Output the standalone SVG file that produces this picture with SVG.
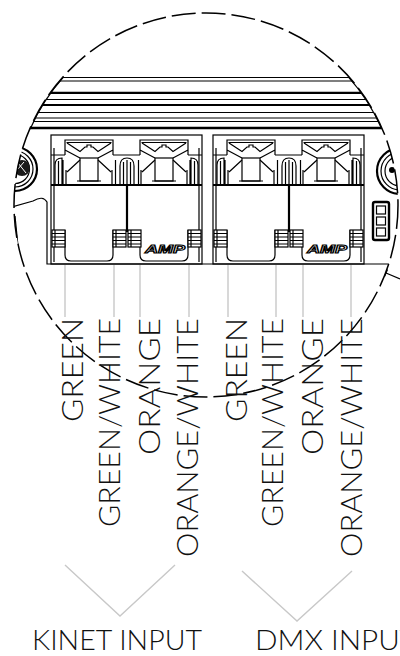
<svg xmlns="http://www.w3.org/2000/svg" xmlns:xlink="http://www.w3.org/1999/xlink" width="400" height="656" viewBox="0 0 400 656">
<style>
.k{fill:none;stroke:#000;stroke-width:1.2;stroke-linejoin:miter}
.k2{fill:none;stroke:#000;stroke-width:2.2}
.w{fill:#fff;stroke:#000;stroke-width:1.2}
.wire{fill:none;stroke:#c8c8c8;stroke-width:1.4}
.lbl{font-family:"Lato","Liberation Sans",sans-serif;font-weight:300;font-size:30px;fill:#111}
.bot{font-family:"Lato","Liberation Sans",sans-serif;font-weight:300;font-size:27px;fill:#111}
.amp{font-family:"Liberation Sans",sans-serif;font-size:10px;font-weight:bold;font-style:italic;fill:#fff;stroke:#000;stroke-width:0.9}
</style>
<defs>
<clipPath id="cc"><circle cx="206" cy="205" r="192"/></clipPath>
<g id="jackTop">
<path class="k" d="M0,155 V140 H48 V155 M1.5,142.5 H46.5 M2,143 L15,151.5 L20,147 H22 V145 H26 V147 H28 L33,151.5 L46,143 M0,150 L15,158 M48,150 L33,158 M2,172 L15,160 M46,172 L33,160 M1,170 V184 M47,170 V184 M12,181 H36"/>
<rect class="k" x="15" y="158" width="18" height="23"/>
</g>
<path id="arch" class="k" d="M0,184 V166 Q0,158 7,158 Q14,158 14,166 V184 M3.5,184 V162 M7,184 V160 M10.5,184 V162"/>
<path id="ujack" class="k" d="M0,230 V255 Q0,261 6,261 H42 Q48,261 48,255 V230"/>
<g id="tab">
<rect class="w" x="0" y="230" width="13" height="17"/>
<path class="k" d="M0,233.5 H13 M0,237 H13 M0,240.5 H13 M0,244 H13 M3,230 V247"/>
</g>
<g id="module">
<rect class="k" x="0" y="135" width="151" height="129" stroke-width="1.5"/>
<path class="k" d="M3,148 V262 M148,148 V262 M0,155 H14 M62,155 H89 M137,155 H151 M64.5,160 V184 M87.5,160 V184"/>
<use xlink:href="#jackTop" x="14"/>
<use xlink:href="#jackTop" x="89"/>
<use xlink:href="#arch" x="69"/>
<path class="k" d="M4,184 V165 Q4,158 11,158 V184 M7.5,184 V161 M147,184 V165 Q147,158 140,158 V184 M143.5,184 V161 M12,160 V184 M139,160 V184"/>
<path class="k2" d="M0,185 H151 M76,185 V232"/>
<use xlink:href="#ujack" x="14"/>
<use xlink:href="#ujack" x="89"/>
<use xlink:href="#tab" x="1"/>
<use xlink:href="#tab" x="62"/>
<use xlink:href="#tab" x="77"/>
<use xlink:href="#tab" x="137"/>
<text class="amp" x="94" y="253" textLength="40" lengthAdjust="spacingAndGlyphs">AMP</text>
</g>
</defs>
<rect width="400" height="656" fill="#fff"/>

<g id="housing" clip-path="url(#cc)">
<g id="fins">
<path class="k" d="M0,77.5 H400 M0,81 H400 M0,99.5 H400 M0,112.5 H400 M0,118 H400 M0,121.5 H400"/>
<path class="k2" d="M0,92.8 H400 M0,105 H400"/>
<path fill="none" stroke="#000" stroke-width="2.6" d="M0,128 H400"/>
<path class="k2" d="M62.9,77 A192,192 0 0 0 30.1,128 M349.1,77 A192,192 0 0 1 381.9,128"/>
</g>
<g id="screw-left">
<circle cx="15" cy="169" r="22" fill="none" stroke="#000" stroke-width="2.2"/>
<circle cx="15" cy="169" r="18" class="k"/>
<circle cx="15" cy="169" r="14.5" class="k"/>
<circle cx="22" cy="168" r="8" fill="#1a1a1a"/>
<path d="M18,163 L26,173 M17,170 L24,162" stroke="#fff" stroke-width="1" fill="none"/>
</g>
<g id="screw-right">
<circle cx="400" cy="171" r="23" fill="none" stroke="#000" stroke-width="2.2"/>
<circle cx="400" cy="171" r="19" class="k"/>
<circle cx="400" cy="171" r="15" class="k"/>
<circle cx="392" cy="170" r="3" fill="#000"/>
</g>
<path class="k" d="M12,203 V209 M12,207 L33,201 Q43,195 47,202 V264 L389,264 M15,216 L19,256"/>
</g>

<g id="module-kinet"><use xlink:href="#module" x="51"/></g>
<g id="module-dmx"><use xlink:href="#module" x="213"/></g>

<g id="dip">
<rect x="373" y="202" width="16" height="38" rx="2" fill="#fff" stroke="#000" stroke-width="2.4"/>
<rect x="376.5" y="206" width="9" height="8" class="w"/>
<rect x="376.5" y="217" width="9" height="8" class="w"/>
<rect x="376.5" y="228" width="9" height="8" class="w"/>
</g>

<g id="leader">
<path class="k" d="M386,273 L400,279 M384.5,276.5 L387.5,269.5"/>
</g>

<g id="circle">
<circle cx="206" cy="205" r="192" fill="none" stroke="#000" stroke-width="1.5" stroke-dasharray="24 6"/>
</g>

<g id="connectors">
<path class="wire" d="M65,265 V317 M114,265 V317 M140,265 V317 M189,265 V317 M228,265 V317 M276,265 V317 M303,265 V317 M351,265 V317"/>
<path class="wire" d="M65,565 L120,616 L175,565 M242,571 L297,621 L352,571" stroke-width="1.5"/>
</g>

<g id="labels">
<text class="lbl" transform="translate(83,422) rotate(-90)" textLength="104" lengthAdjust="spacingAndGlyphs">GREEN</text>
<text class="lbl" transform="translate(120,527) rotate(-90)" textLength="209" lengthAdjust="spacingAndGlyphs">GREEN/WHITE</text>
<text class="lbl" transform="translate(160,455) rotate(-90)" textLength="137" lengthAdjust="spacingAndGlyphs">ORANGE</text>
<text class="lbl" transform="translate(198,557) rotate(-90)" textLength="239" lengthAdjust="spacingAndGlyphs">ORANGE/WHITE</text>
<text class="lbl" transform="translate(247,422) rotate(-90)" textLength="104" lengthAdjust="spacingAndGlyphs">GREEN</text>
<text class="lbl" transform="translate(283,527) rotate(-90)" textLength="209" lengthAdjust="spacingAndGlyphs">GREEN/WHITE</text>
<text class="lbl" transform="translate(323,455) rotate(-90)" textLength="137" lengthAdjust="spacingAndGlyphs">ORANGE</text>
<text class="lbl" transform="translate(362,557) rotate(-90)" textLength="239" lengthAdjust="spacingAndGlyphs">ORANGE/WHITE</text>
</g>

<g id="input-labels">
<text class="bot" x="32" y="650" textLength="170" lengthAdjust="spacingAndGlyphs">KINET INPUT</text>
<text class="bot" x="255" y="650" textLength="162" lengthAdjust="spacingAndGlyphs">DMX INPUT</text>
</g>
</svg>
